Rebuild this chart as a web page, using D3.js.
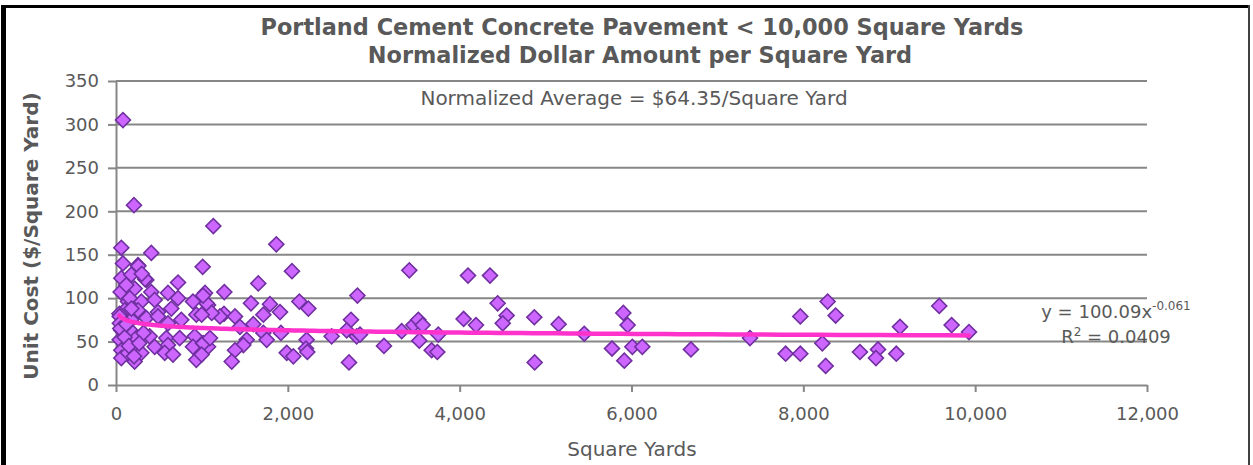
<!DOCTYPE html>
<html>
<head>
<meta charset="utf-8">
<script src="https://cdn.jsdelivr.net/npm/d3@7"></script>
<style>
  html, body { margin: 0; padding: 0; background: #fff; }
  svg { display: block; }
  text { font-family: "DejaVu Sans", Verdana, sans-serif; fill: #595959; }
</style>
</head>
<body>
<svg id="chart" width="1253" height="465"></svg>
<script>
// ---------------- data ----------------
const titleLines = ["Portland Cement Concrete Pavement < 10,000 Square Yards",
                    "Normalized Dollar Amount per Square Yard"];
const xAxisTitle = "Square Yards";
const yAxisTitle = "Unit Cost ($/Square Yard)";
const averageNote = "Normalized Average = $64.35/Square Yard";
const xTicks = [0, 2000, 4000, 6000, 8000, 10000, 12000];
const yTicks = [0, 50, 100, 150, 200, 250, 300, 350];
const trendA = 100.09;
const trendB = -0.061;
const trendR2 = "0.0409";

// square yards of each project
const squareYards = [
  81, 209, 62, 411, 81, 256, 62, 178, 353, 722, 54, 217, 411, 605, 722, 896, 140, 295, 450, 101,
  256, 489, 644, 935, 1071, 40, 43, 45, 178, 353, 489, 605, 760, 62, 198, 392, 586, 741, 916, 43,
  236, 62, 256, 450, 605, 896, 1013, 1071, 62, 217, 295, 567, 663, 935, 140, 338, 260, 120, 160, 300,
  50, 100, 150, 320, 180, 120, 270, 210,
  1133, 1866, 1009, 2048, 1656, 1261, 1036, 1055, 1571, 1792, 1909, 2134, 2239, 1715, 1257, 1210, 1385, 1114, 997, 1443,
  1598, 1715, 1754, 1920, 1521, 1482, 1385, 1347, 1016, 1094, 997, 1987, 2064, 2219, 2211, 2227, 1013,
  2510, 2712, 2735, 2685, 2801, 2840, 2810, 3119, 3414, 3325, 3461, 3519, 3569, 3530, 3674, 3740, 3751, 4097, 4353, 4046,
  4190, 4442, 4547, 4501, 4869, 4873, 5152, 5450, 5773, 5905, 5955, 5916, 6010, 6126, 6692, 7379, 7794, 7965, 7965, 8221,
  8260, 8283, 8376, 8659, 8869, 8845, 9082, 9125, 9582, 9726, 9928
];
// normalized unit cost ($ / square yard) of each project
const unitCost = [
  305, 207, 158, 152, 140, 138, 123, 127, 121, 118, 107, 111, 107, 106, 100, 96, 96, 96, 98, 86,
  86, 84, 88, 81, 92, 82, 79, 71, 75, 77, 79, 71, 75, 63, 60, 56, 54, 54, 56, 52,
  54, 40, 38, 44, 46, 44, 48, 44, 31, 27, 37, 37, 35, 29, 37, 122, 137, 115, 100, 128,
  65, 55, 45, 60, 88, 70, 48, 33,
  183, 162, 136, 131, 117, 107, 106, 94, 94, 93, 84, 96, 88, 81, 82, 79, 79, 83, 81, 67,
  70, 60, 52, 60, 52, 46, 40, 27, 48, 54, 35, 37, 33, 52, 42, 38, 103,
  56, 26, 75, 63, 56, 58, 103, 45, 132, 62, 69, 75, 69, 51, 40, 38, 58, 126, 126, 76,
  69, 94, 80, 71, 78, 26, 70, 59, 42, 83, 69, 28, 44, 44, 41, 54, 36, 36, 79, 48,
  22, 96, 80, 38, 41, 31, 36, 67, 91, 69, 61
];

// ---------------- chart ----------------
const svg = d3.select("#chart");

const x = d3.scaleLinear().domain([0, 12000]).range([116, 1147]);
const y = d3.scaleLinear().domain([0, 350]).range([385, 81]);

const gridColor = "#878787";

// gridlines
svg.append("g")
  .selectAll("line")
  .data(yTicks.filter(d => d > 0))
  .join("line")
  .attr("x1", x(0)).attr("x2", x(12000))
  .attr("y1", d => y(d)).attr("y2", d => y(d))
  .attr("stroke", gridColor).attr("stroke-width", 2);

// y axis
const yAxis = svg.append("g")
  .attr("transform", `translate(${x(0)},0)`)
  .call(d3.axisLeft(y).tickValues(yTicks).tickSize(8).tickPadding(9).tickSizeOuter(0));
yAxis.select(".domain").attr("stroke", gridColor).attr("stroke-width", 2);
yAxis.selectAll(".tick line").attr("stroke", gridColor).attr("stroke-width", 2);
yAxis.selectAll(".tick text")
  .attr("font-family", "DejaVu Sans").attr("font-size", 18).attr("fill", "#595959");

// x axis
const xAxis = svg.append("g")
  .attr("transform", `translate(0,${y(0)})`)
  .call(d3.axisBottom(x).tickValues(xTicks).tickSize(7).tickPadding(15).tickSizeOuter(0)
        .tickFormat(d3.format(",")));
xAxis.select(".domain").attr("stroke", gridColor).attr("stroke-width", 2);
xAxis.selectAll(".tick line").attr("stroke", gridColor).attr("stroke-width", 2);
xAxis.selectAll(".tick text")
  .attr("font-family", "DejaVu Sans").attr("font-size", 18).attr("fill", "#595959");

// points
const pts = squareYards.map((v, i) => ({ x: v, y: unitCost[i] }));
const diamond = d3.symbol().type(d3.symbolSquare).size(112);
svg.append("g")
  .selectAll("path")
  .data(pts)
  .join("path")
  .attr("d", diamond)
  .attr("transform", d => `translate(${x(d.x)},${y(d.y)}) rotate(45)`)
  .attr("fill", "#CC66FF")
  .attr("stroke", "#7030A0")
  .attr("stroke-width", 1.6);

// power trendline y = a x^b over the data range
const xMin = d3.min(squareYards), xMax = d3.max(squareYards);
const trendX = d3.range(0, 201).map(i => xMin * Math.pow(xMax / xMin, i / 200));
const line = d3.line().x(d => x(d)).y(d => y(trendA * Math.pow(d, trendB)));
svg.append("path")
  .attr("d", line(trendX))
  .attr("fill", "none")
  .attr("stroke", "#FF33CC")
  .attr("stroke-width", 4.5)
  .attr("stroke-linecap", "round");

// trendline label
const eq = svg.append("text")
  .attr("x", 1116).attr("y", 318)
  .attr("text-anchor", "middle")
  .attr("font-size", 18);
eq.append("tspan").text(`y = ${trendA}x`);
eq.append("tspan").attr("font-size", 12).attr("dy", -8).text(trendB);
const r2 = svg.append("text")
  .attr("x", 1116).attr("y", 343)
  .attr("text-anchor", "middle")
  .attr("font-size", 18);
r2.append("tspan").text("R");
r2.append("tspan").attr("font-size", 12).attr("dy", -7).text("2");
r2.append("tspan").attr("dy", 7).text(` = ${trendR2}`);

// titles
svg.append("text")
  .attr("x", 642).attr("y", 35)
  .attr("text-anchor", "middle")
  .attr("font-size", 22.4).attr("font-weight", "bold")
  .text(titleLines[0]);
svg.append("text")
  .attr("x", 640).attr("y", 63)
  .attr("text-anchor", "middle")
  .attr("font-size", 22.4).attr("font-weight", "bold")
  .text(titleLines[1]);

svg.append("text")
  .attr("x", 634).attr("y", 105)
  .attr("text-anchor", "middle")
  .attr("font-size", 20)
  .text(averageNote);

svg.append("text")
  .attr("x", 632).attr("y", 456)
  .attr("text-anchor", "middle")
  .attr("font-size", 20)
  .text(xAxisTitle);

svg.append("text")
  .attr("transform", `translate(38,${(y(0) + y(350)) / 2 + 3}) rotate(-90)`)
  .attr("text-anchor", "middle")
  .attr("font-size", 20).attr("font-weight", "bold")
  .text(yAxisTitle);

// chart frame
svg.append("rect").attr("x", 1).attr("y", 5).attr("width", 1249).attr("height", 3).attr("fill", "#000");
svg.append("rect").attr("x", 1).attr("y", 5).attr("width", 5).attr("height", 460).attr("fill", "#000");
svg.append("rect").attr("x", 1248).attr("y", 5).attr("width", 2).attr("height", 460).attr("fill", "#404040");
</script>
</body>
</html>
